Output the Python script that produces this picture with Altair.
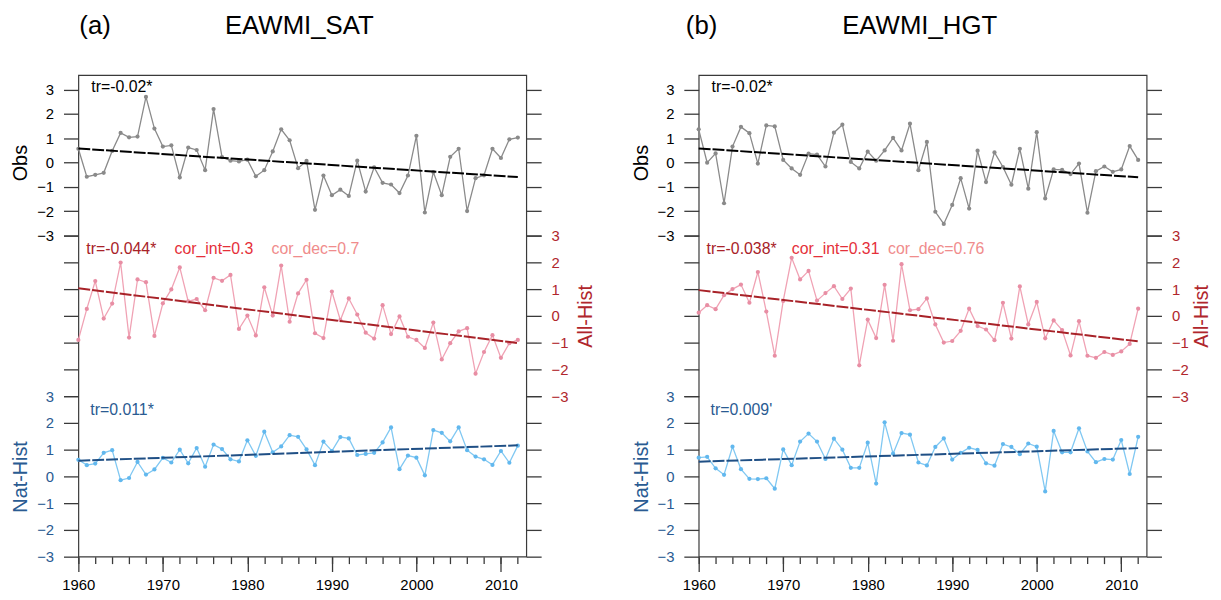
import altair as alt
import pandas as pd

YEARS = list(range(1960, 2013))

SAT_OBS = [0.57, -0.58, -0.50, -0.42, 0.48, 1.22, 1.04, 1.07, 2.70, 1.40,
           0.66, 0.71, -0.61, 0.62, 0.52, -0.31, 2.20, 0.23, 0.08, 0.05,
           0.12, -0.56, -0.31, 0.46, 1.37, 0.92, -0.23, 0.07, -1.94, -0.53,
           -1.34, -1.11, -1.37, 0.08, -1.19, -0.19, -0.83, -0.90, -1.25, -0.53,
           1.10, -2.05, -0.39, -1.34, 0.24, 0.57, -1.99, -0.64, -0.52, 0.57,
           0.19, 0.96, 1.03]
SAT_ALL = [-0.90, 0.26, 1.30, -0.10, 0.46, 1.99, -0.81, 1.36, 1.26, -0.75,
           0.47, 0.99, 1.81, 0.54, 0.63, 0.21, 1.42, 1.31, 1.53, -0.49,
           0.01, -0.73, 1.07, 0.01, 1.88, -0.22, 0.84, 1.35, -0.65, -0.83,
           0.91, -0.16, 0.65, 0.05, -0.63, -0.85, 0.40, -0.68, -0.02, -0.78,
           -0.90, -1.20, -0.25, -1.63, -1.02, -0.58, -0.46, -2.16, -1.35, -0.72,
           -1.57, -1.02, -0.90]
SAT_NAT = [0.62, 0.42, 0.48, 0.88, 0.98, -0.14, -0.06, 0.54, 0.07, 0.26,
           0.69, 0.52, 1.00, 0.49, 1.06, 0.36, 1.19, 1.02, 0.64, 0.56,
           1.35, 0.77, 1.67, 0.90, 1.12, 1.54, 1.48, 1.01, 0.42, 1.30,
           0.95, 1.47, 1.42, 0.80, 0.84, 0.88, 1.27, 1.83, 0.27, 0.78,
           0.70, 0.04, 1.73, 1.63, 1.31, 1.83, 0.98, 0.74, 0.64, 0.43,
           0.95, 0.51, 1.15]
HGT_OBS = [1.37, 0.00, 0.38, -1.67, 0.66, 1.47, 1.21, -0.04, 1.53, 1.49,
           0.11, -0.24, -0.50, 0.37, 0.33, -0.16, 1.23, 1.56, 0.03, -0.24,
           0.45, 0.08, 0.50, 1.02, 0.50, 1.60, -0.31, 0.85, -2.02, -2.52,
           -1.74, -0.64, -1.89, 0.49, -0.80, 0.42, -0.18, -0.91, 0.57, -1.07,
           1.25, -1.47, -0.28, -0.30, -0.47, -0.04, -2.06, -0.35, -0.16, -0.38,
           -0.28, 0.68, 0.11]
HGT_ALL = [0.12, 0.40, 0.25, 0.77, 1.00, 1.17, 0.49, 1.64, 0.16, -1.49,
           0.56, 2.17, 1.36, 1.68, 0.57, 0.85, 1.11, 0.63, 1.02, -1.85,
           -0.14, -0.83, 1.16, -0.93, 1.93, 0.21, 0.25, 0.65, -0.32, -1.00,
           -0.94, -0.56, 0.27, -0.38, -0.51, -0.91, 0.49, -0.85, 1.10, -0.32,
           0.52, -0.84, -0.17, -0.53, -1.48, -0.20, -1.49, -1.57, -1.35, -1.46,
           -1.33, -1.05, 0.27]
HGT_NAT = [0.70, 0.73, 0.30, 0.06, 1.11, 0.27, -0.09, -0.10, -0.07, -0.46,
           1.01, 0.42, 1.30, 1.60, 1.30, 0.65, 1.41, 1.00, 0.32, 0.32,
           1.26, -0.27, 2.02, 0.85, 1.62, 1.56, 0.52, 0.41, 1.10, 1.42,
           0.63, 0.88, 1.07, 0.99, 0.49, 0.40, 1.21, 1.10, 0.83, 1.23,
           1.11, -0.56, 1.70, 0.90, 0.90, 1.80, 0.93, 0.53, 0.65, 0.63,
           1.36, 0.09, 1.48]

PANEL_TAGS = ["(a)", "(b)"]
PANEL_TITLES = ["EAWMI_SAT", "EAWMI_HGT"]
OBS_TR = ["tr=-0.02*", "tr=-0.02*"]
ALL_TR = ["tr=-0.044*", "tr=-0.038*"]
COR_INT = ["cor_int=0.3", "cor_int=0.31"]
COR_DEC = ["cor_dec=0.7", "cor_dec=0.76"]
NAT_TR = ["tr=0.011*", "tr=0.009'"]
SERIES_NAMES = ["Obs", "All-Hist", "Nat-Hist"]
Y_TICKS = [-3, -2, -1, 0, 1, 2, 3]
X_MAJOR = [1960, 1970, 1980, 1990, 2000, 2010]
X_MINOR = list(range(1960, 2013, 2))

FONT = "Liberation Sans"
W, H = 452, 486
XDOM = [1960, 2013]
OBS_DOM = [-16.2, 3.6]
ALL_DOM = [-9, 9]
NAT_DOM = [-3, 15]

OBS_LINE = "#8a8a8a"
ALL_LINE = "#f0a2b4"
ALL_PT = "#e88ea4"
ALL_DARK = "#a82228"
ALL_LAB = "#b0262c"
COR_INT_C = "#e5303a"
COR_DEC_C = "#f08c8c"
NAT_LINE = "#80c8f2"
NAT_PT = "#62b8ee"
NAT_DARK = "#1f4f85"
NAT_LAB = "#2a5b92"
TICK_C = "#3a3a3a"


def ypix(v, dom):
    return (dom[1] - v) / (dom[1] - dom[0]) * H


def xenc(axis):
    return alt.X("year:Q", scale=alt.Scale(domain=XDOM, nice=False, zero=False), axis=axis)


def yaxis(orient, dom, title=None, labels=True, color="black", tx=None):
    kw = dict(orient=orient, values=Y_TICKS, labels=labels, grid=False, domain=False,
              tickSize=15, tickColor=TICK_C, tickWidth=1.3, labelColor=color,
              labelFontSize=15, labelFont=FONT, labelPadding=10)
    if title:
        kw.update(title=title, titleX=tx, titleY=ypix(0, dom),
                  titleAngle=-90, titleAlign="center", titleBaseline="middle",
                  titleColor=color, titleFontSize=20, titleFont=FONT, titleFontWeight="normal")
    else:
        kw.update(title=None)
    return alt.Axis(**kw)


def yenc(dom, axis):
    return alt.Y("value:Q", scale=alt.Scale(domain=dom, nice=False, zero=False), axis=axis)


def text_layer(txt, x, y, color, size=16, align="left"):
    return alt.Chart(pd.DataFrame({"t": [txt]})).mark_text(
        align=align, baseline="middle", font=FONT, fontSize=size, color=color
    ).encode(x=alt.value(x), y=alt.value(y), text="t:N")


def panel(i, obs, allh, nat):
    d_obs = pd.DataFrame({"year": YEARS, "value": obs})
    d_all = pd.DataFrame({"year": YEARS, "value": allh})
    d_nat = pd.DataFrame({"year": YEARS, "value": nat})
    right_tx = 60 if i == 0 else 55

    xmajor = alt.Axis(orient="bottom", values=X_MAJOR, format="d", tickSize=15, labelFlush=False,
                      labelPadding=6, grid=False, domain=False, title=None, tickColor=TICK_C,
                      tickWidth=1.3, labelFontSize=15, labelFont=FONT, labelColor="black")
    xminor = alt.Axis(orient="bottom", values=X_MINOR, labels=False, tickSize=7, grid=False,
                      domain=False, title=None, tickColor=TICK_C, tickWidth=1.3)

    obs_line = alt.Chart(d_obs).mark_line(
        color=OBS_LINE, strokeWidth=1.3,
        point=alt.OverlayMarkDef(color=OBS_LINE, size=18, filled=True)
    ).encode(x=xenc(xmajor), y=yenc(OBS_DOM, yaxis("left", OBS_DOM, SERIES_NAMES[0], tx=-58)))
    obs_tr = alt.Chart(d_obs).transform_regression("year", "value").mark_line(
        color="black", strokeWidth=2, strokeDash=[12, 2]
    ).encode(x=xenc(xminor), y=yenc(OBS_DOM, yaxis("right", OBS_DOM, labels=False)))

    all_line = alt.Chart(d_all).mark_line(
        color=ALL_LINE, strokeWidth=1.3,
        point=alt.OverlayMarkDef(color=ALL_PT, size=18, filled=True)
    ).encode(x=xenc(None), y=yenc(ALL_DOM, yaxis("right", ALL_DOM, SERIES_NAMES[1],
                                                 color=ALL_LAB, tx=right_tx)))
    all_tr = alt.Chart(d_all).transform_regression("year", "value").mark_line(
        color=ALL_DARK, strokeWidth=2, strokeDash=[12, 2]
    ).encode(x=xenc(None), y=yenc(ALL_DOM, yaxis("left", ALL_DOM, labels=False)))

    nat_line = alt.Chart(d_nat).mark_line(
        color=NAT_LINE, strokeWidth=1.3,
        point=alt.OverlayMarkDef(color=NAT_PT, size=18, filled=True)
    ).encode(x=xenc(None), y=yenc(NAT_DOM, yaxis("left", NAT_DOM, SERIES_NAMES[2],
                                                 color=NAT_LAB, tx=-58)))
    nat_tr = alt.Chart(d_nat).transform_regression("year", "value").mark_line(
        color=NAT_DARK, strokeWidth=2, strokeDash=[12, 2]
    ).encode(x=xenc(None), y=yenc(NAT_DOM, yaxis("right", NAT_DOM, labels=False)))

    tag_dx = 1 if i == 0 else -13
    texts = [
        text_layer(PANEL_TAGS[i], tag_dx, -49, "black", size=26),
        text_layer(PANEL_TITLES[i], 223, -49, "black", size=26, align="center"),
        text_layer(OBS_TR[i], 13, 12, "black"),
        text_layer(ALL_TR[i], 8, 176, ALL_DARK),
        text_layer(COR_INT[i], 97 if i == 0 else 94, 176, COR_INT_C),
        text_layer(COR_DEC[i], 195 if i == 0 else 191, 176, COR_DEC_C),
        text_layer(NAT_TR[i], 12, 338, NAT_LAB),
    ]
    return alt.layer(obs_line, obs_tr, all_line, all_tr, nat_line, nat_tr, *texts).resolve_scale(
        x="independent", y="independent"
    ).properties(width=W, height=H)


pa = panel(0, SAT_OBS, SAT_ALL, SAT_NAT)
pb = panel(1, HGT_OBS, HGT_ALL, HGT_NAT)

chart = alt.hconcat(pa, pb, spacing=34).properties(
    padding={"left": 2, "top": 2, "right": 1, "bottom": -2}
).configure_view(stroke=TICK_C, strokeWidth=1.2)

chart.save("out.html", embed_options={"renderer": "svg", "actions": False})
